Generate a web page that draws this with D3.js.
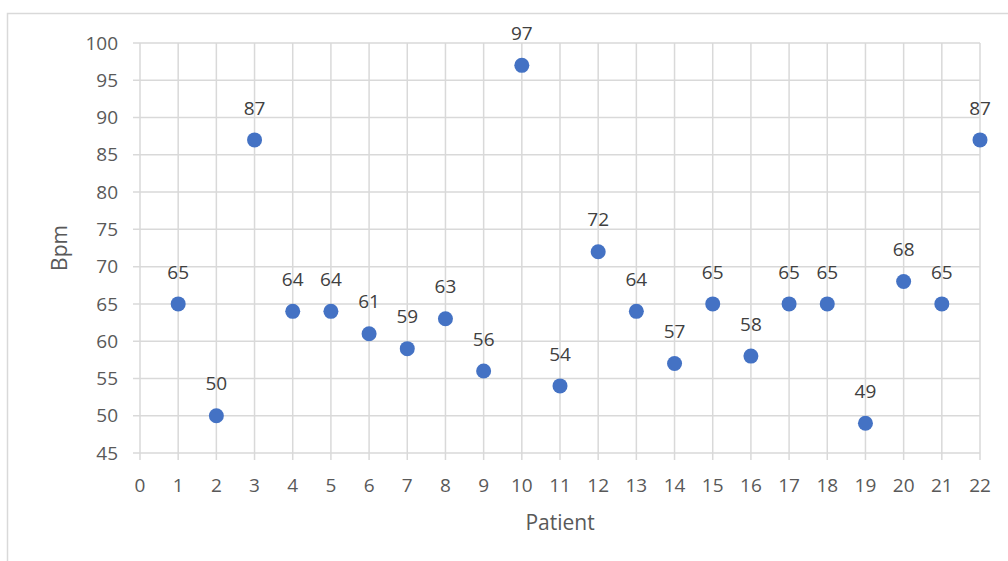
<!DOCTYPE html>
<html><head><meta charset="utf-8">
<script src="https://cdn.jsdelivr.net/npm/d3@7"></script>
<style>body{margin:0;background:#fff;} svg{display:block;font-family:"Open Sans",sans-serif;}</style>
</head><body><svg id="c" width="1008" height="561"></svg>
<script>
const patients = [1,2,3,4,5,6,7,8,9,10,11,12,13,14,15,16,17,18,19,20,21,22];
const bpm = [65,50,87,64,64,61,59,63,56,97,54,72,64,57,65,58,65,65,49,68,65,87];
const xTicks = d3.range(0,23);
const yTicks = d3.range(45,101,5);

const svg = d3.select("#c");
const L=140,R=980,T=43,B=453;
const x = d3.scaleLinear().domain([0,22]).range([L,R]);
const y = d3.scaleLinear().domain([45,100]).range([B,T]);
const grid="#d9d9d9", txt="#595959";

svg.append("rect").attr("x",7.5).attr("y",13.5).attr("width",1010).attr("height",560)
  .attr("fill","none").attr("stroke",grid).attr("stroke-width",1.5);

// gridlines
svg.append("g").selectAll("line").data(yTicks).join("line")
  .attr("x1",L-7).attr("x2",R).attr("y1",d=>y(d)).attr("y2",d=>y(d))
  .attr("stroke",grid).attr("stroke-width",1.5);
svg.append("g").selectAll("line").data(xTicks).join("line")
  .attr("x1",d=>x(d)).attr("x2",d=>x(d)).attr("y1",T).attr("y2",B+7)
  .attr("stroke",grid).attr("stroke-width",1.5);

// tick labels
svg.append("g").selectAll("text").data(yTicks).join("text")
  .attr("x",118).attr("y",d=>y(d)).attr("dy","0.35em").attr("text-anchor","end")
  .attr("fill",txt).attr("font-size",19).text(d=>d);
svg.append("g").selectAll("text").data(xTicks).join("text")
  .attr("x",d=>x(d)).attr("y",485).attr("dy","0.35em").attr("text-anchor","middle")
  .attr("fill",txt).attr("font-size",19).text(d=>d);

// axis titles
svg.append("text").attr("x",560).attr("y",523).attr("dy","0.35em").attr("text-anchor","middle")
  .attr("fill",txt).attr("font-size",21).text("Patient");
svg.append("text").attr("transform","translate(60,248) rotate(-90)").attr("dy","0.35em")
  .attr("text-anchor","middle").attr("fill",txt).attr("font-size",21).text("Bpm");

// points
const pts = patients.map((p,i)=>({p,v:bpm[i]}));
svg.append("g").selectAll("circle").data(pts).join("circle")
  .attr("cx",d=>x(d.p)).attr("cy",d=>y(d.v)).attr("r",7.5).attr("fill","#4472c4");
svg.append("g").selectAll("text").data(pts).join("text")
  .attr("x",d=>x(d.p)).attr("y",d=>y(d.v)-32).attr("dy","0.35em").attr("text-anchor","middle")
  .attr("fill","#404040").attr("font-size",19).text(d=>d.v);
</script></body></html>
